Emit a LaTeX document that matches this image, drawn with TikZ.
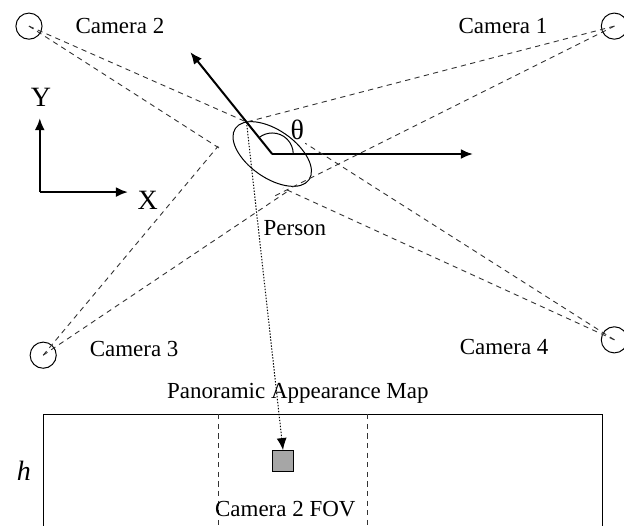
\documentclass[tikz,border=0pt]{standalone}
\usepackage{fontspec}
\setmainfont{Liberation Serif}
\usetikzlibrary{arrows.meta}
\usetikzlibrary{calc}
\usetikzlibrary{positioning}

\begin{document}
\begin{tikzpicture}[
        nodes={font={\fontsize{11.5}{13}\selectfont}},
        cam_style/.style={circle, draw, line width=0.5pt, minimum size=0.46cm, inner sep=0pt},
        ray_style/.style={dash pattern=on 2.6pt off 2.2pt, line width=0.45pt, black!80},
        arrow_style/.style={-{Latex[length=6pt, width=5pt]}, line width=1pt},
        big_text/.style={font={\fontsize{14}{16}\selectfont}},
      node distance=1.6cm]

      \useasboundingbox (0,0) rectangle (10.98,9.24);
      \clip (0,0) rectangle (10.98,9.24);

      \node[cam_style] (cam_one) at (10.81,8.78) {};
      \node[cam_style] (cam_two) at (0.51,8.78) {};
      \node[cam_style] (cam_three) at (0.76,2.99) {};
      \node[cam_style] (cam_four) at (10.81,3.26) {};

      \node[left of=cam_one, xshift=-0.36cm] (cam_one_text) {Camera 1};
      \node[right of=cam_two] (cam_two_text) {Camera 2};
      \node[right of=cam_three, yshift=0.11cm] (cam_three_text) {Camera 3};
      \node[left of=cam_four, xshift=-0.34cm, yshift=-0.13cm] (cam_four_text) {Camera 4};

      % world axes
      \coordinate (axis_origin) at (0.70,5.86);
      \coordinate (y_tip) at (0.70,7.16);
      \coordinate (x_tip) at (2.25,5.86);
      \node[big_text] (y_text) at (0.72,7.53) {Y};
      \node[big_text] (x_text) at (2.60,5.72) {X};
      \draw[arrow_style] (axis_origin) -- (y_tip);
      \draw[arrow_style] (axis_origin) -- (x_tip);

      % person
      \coordinate (pers) at (4.79,6.53);
      \coordinate (head_pt) at ($(pers)+(128.8:0.722)$);
      \coordinate (dir_tip) at ($(pers)+(128.8:2.3)$);
      \coordinate (ref_tip) at (8.32,6.53);
      \draw[line width=0.5pt, rotate around={-35:(pers)}] (pers) ellipse (0.79cm and 0.42cm);
      \draw[arrow_style] (pers) -- (dir_tip);
      \draw[arrow_style] (pers) -- (ref_tip);
      \draw[line width=0.5pt] ($(pers)+(0:0.37)$) arc[start angle=0, end angle=128.8, radius=0.37];
      \node[big_text] (theta_text) at (5.23,6.95) {θ};
      \node (pers_text) at (5.19,5.23) {Person};

      % silhouette rays
      \coordinate (end_two_b) at (3.91,6.60);
      \coordinate (end_three_a) at (3.84,6.67);
      \coordinate (end_three_b) at (5.10,5.90);
      \coordinate (end_one_b) at (4.79,5.77);
      \coordinate (end_four_a) at (5.37,6.72);
      \coordinate (end_four_b) at (4.98,5.93);

      \draw[ray_style] (cam_one.center) -- (head_pt);
      \draw[ray_style] (cam_one.center) -- (end_one_b);
      \draw[ray_style] (cam_two.center) -- (head_pt);
      \draw[ray_style] (cam_two.center) -- (end_two_b);
      \draw[ray_style] (cam_three.center) -- (end_three_a);
      \draw[ray_style] (cam_three.center) -- (end_three_b);
      \draw[ray_style] (cam_four.center) -- (end_four_a);
      \draw[ray_style] (cam_four.center) -- (end_four_b);

      % panoramic appearance map
      \node (pam_text) at (5.24,2.32) {Panoramic Appearance Map};
      \draw[line width=0.5pt] (0.76,-0.5) rectangle (10.60,1.95);
      \draw[ray_style] (3.84,1.95) -- (3.84,-0.5);
      \draw[ray_style] (6.46,1.95) -- (6.46,-0.5);
      \node[draw, line width=0.6pt, fill=black!35, minimum size=0.36cm, inner sep=0pt] (pam_cell) at (4.98,1.13) {};
      \node (fov_text) at (5.02,0.28) {Camera 2 FOV};
      \node[big_text] (h_text) at (0.42,0.95) {\textit{h}};

      \draw[-{Latex[length=6pt, width=5pt]}, dash pattern=on 0.7pt off 0.8pt, line width=0.5pt] (head_pt) -- (pam_cell.north);
    \end{tikzpicture}
\end{document}
